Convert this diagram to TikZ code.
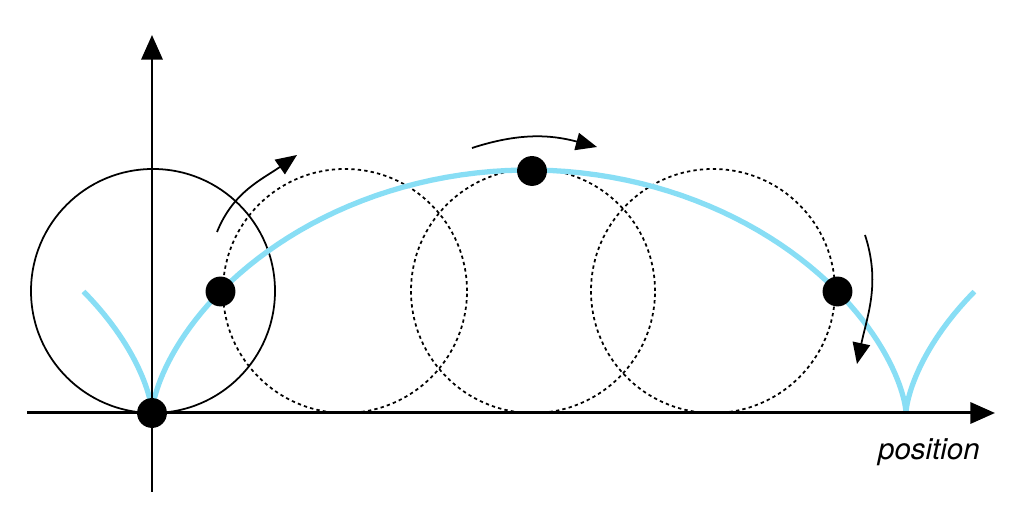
\documentclass[tikz,border=0pt]{standalone}
\usepackage{fontspec}
\usepackage{tikz}
\usetikzlibrary{arrows.meta}
\usetikzlibrary{positioning}
\setsansfont{TeX Gyre Heros}
\definecolor{cycloidblue}{RGB}{136,222,245}

\begin{document}
\begin{tikzpicture}[x=0.02cm,y=0.02cm,
        axis/.style={line width=1.7pt, -{Triangle[length=14pt,width=12pt]}},
        wheel/.style={line width=1pt},
        ghost/.style={line width=1pt, dash pattern=on 1.9pt off 1.8pt},
        spin/.style={line width=1pt, -{Triangle[length=12pt,width=10pt]}},
        trace/.style={cycloidblue, line width=3pt},
        dot/.style={circle, fill=black, inner sep=0pt, minimum size=17pt}]
        \useasboundingbox (0,0) rectangle (1024,526);

        % axes
        \coordinate (xl) at (27,113);
        \coordinate (xr) at (995,113);
        \coordinate (yb) at (152,34);
        \coordinate (yt) at (152,491);

        % wheel centres
        \coordinate (c0) at (153,235);
        \coordinate (c1) at (345,235);
        \coordinate (c2) at (533,235);
        \coordinate (c3) at (713,235);

        \draw[wheel] (c0) circle[radius=122];
        \draw[ghost] (c1) circle[radius=122];
        \draw[ghost] (c2) circle[radius=122];
        \draw[ghost] (c3) circle[radius=122];

        \draw[trace] plot[domain=-pi/2:5*pi/2, samples=150, variable=\t]
            ({152+120*(\t-sin(\t r))}, {113+121.5*(1-cos(\t r))});

        \draw[axis] (xl) -- (xr);
        \draw[axis] (yb) -- (yt);

        \node[dot] (p0) at (152,113) {};
        \node[dot] (p1) at (220.5,234.5) {};
        \node[dot] (p2) at (532,355) {};
        \node[dot] (p3) at (837.5,234.5) {};

        % rotation arrows
        \coordinate (a1s) at (217,294);
        \coordinate (a1e) at (297,371);
        \coordinate (a2s) at (472,378);
        \coordinate (a2e) at (597,379);
        \coordinate (a3s) at (865,291);
        \coordinate (a3e) at (857,162);
        \draw[spin] (a1s) to[out=68, in=215] (a1e);
        \draw[spin] (a2s) to[out=18, in=165] (a2e);
        \draw[spin] (a3s) to[out=-72, in=78] (a3e);

        \node[font=\sffamily\itshape\fontsize{16.8}{20}\selectfont, anchor=base east] (pos) at (986,66) {position};
\end{tikzpicture}
\end{document}
